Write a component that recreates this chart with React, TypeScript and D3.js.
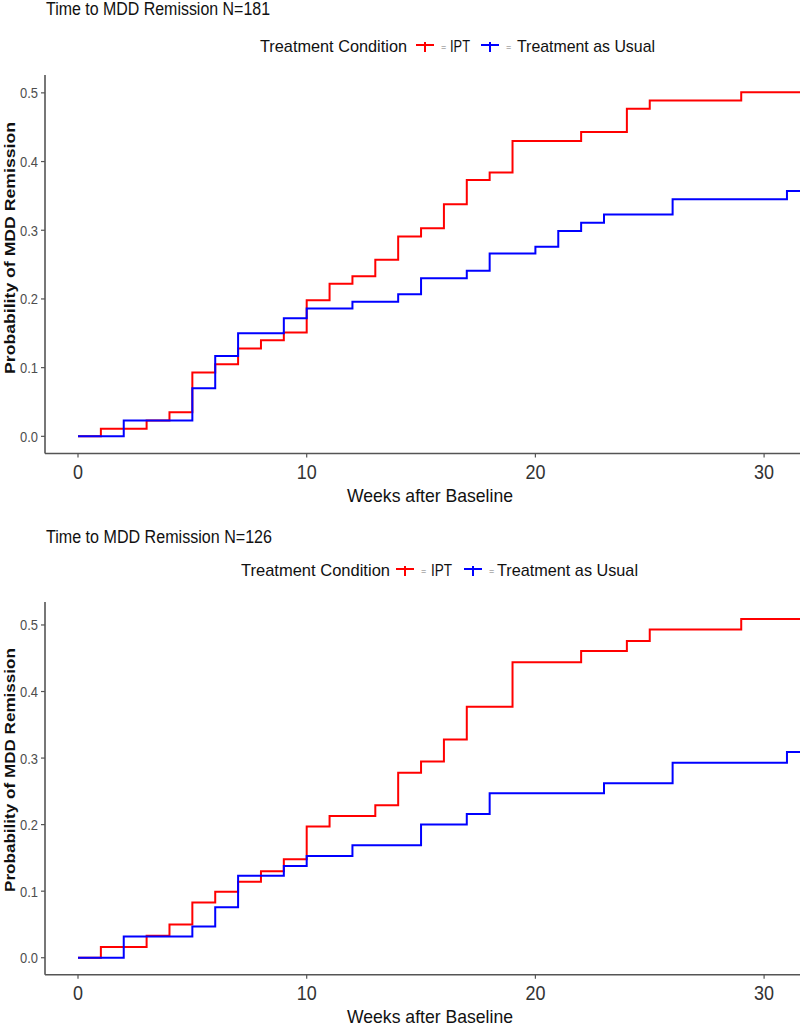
import React from "react";
import * as d3 from "d3";

// ---------- Data ----------
const topIptWeeks = [0, 1, 3, 4, 5, 6, 7, 8, 9, 10, 11, 12, 13, 14, 15, 16, 17, 18, 19, 22, 24, 25, 29];
const topIptProb = [0, 0.011, 0.023, 0.035, 0.093, 0.105, 0.128, 0.14, 0.151, 0.198, 0.222, 0.233, 0.257, 0.291, 0.303, 0.338, 0.373, 0.384, 0.43, 0.443, 0.477, 0.489, 0.501];
const topTauWeeks = [0, 2, 5, 6, 7, 9, 10, 12, 14, 15, 17, 18, 20, 21, 22, 23, 26, 31];
const topTauProb = [0, 0.023, 0.07, 0.117, 0.15, 0.172, 0.186, 0.196, 0.207, 0.23, 0.241, 0.266, 0.276, 0.299, 0.311, 0.323, 0.345, 0.357];

const botIptWeeks = [0, 1, 3, 4, 5, 6, 7, 8, 9, 10, 11, 13, 14, 15, 16, 17, 19, 22, 24, 25, 29];
const botIptProb = [0, 0.016, 0.033, 0.05, 0.083, 0.099, 0.114, 0.13, 0.148, 0.197, 0.213, 0.229, 0.278, 0.295, 0.328, 0.377, 0.444, 0.461, 0.476, 0.493, 0.509];
const botTauWeeks = [0, 2, 5, 6, 7, 9, 10, 12, 15, 17, 18, 23, 26, 31];
const botTauProb = [0, 0.032, 0.047, 0.076, 0.123, 0.138, 0.153, 0.169, 0.2, 0.216, 0.247, 0.262, 0.293, 0.309];

const xTicks = [0, 10, 20, 30];
const yTicks = [0, 0.1, 0.2, 0.3, 0.4, 0.5];
const xDomain: [number, number] = [-1.443, 31.57];
const titles = ["Time to MDD Remission N=181", "Time to MDD Remission N=126"];
const legendTitle = "Treatment Condition";
const groupLabels = ["IPT", "Treatment as Usual"];
const colors = ["#ff0000", "#0000ff"];
const xLabel = "Weeks after Baseline";
const yLabel = "Probability of MDD Remission";

const FONT = "'Liberation Sans', Arial, sans-serif";

type PanelCfg = {
  title: string;
  titleY: number;
  titleLen: number;
  legendY: number;
  legend: { tc: number; tcLen: number; k1: number; eq1: number; ipt: number; iptLen: number; k2: number; eq2: number; tau: number; tauLen: number };
  yDomain: [number, number];
  yRange: [number, number];
  yTitleY: number;
  yTitleLen: number;
  series: { weeks: number[]; prob: number[] }[];
};

function Panel({ cfg }: { cfg: PanelCfg }) {
  const x = d3.scaleLinear().domain(xDomain).range([45, 800]);
  const y = d3.scaleLinear().domain(cfg.yDomain).range(cfg.yRange);
  const bottom = cfg.yRange[0];
  const top = cfg.yRange[1];
  const line = d3
    .line<[number, number]>()
    .x((d) => x(d[0]))
    .y((d) => y(d[1]))
    .curve(d3.curveStepAfter);
  const L = cfg.legend;
  const key = (cx: number, color: string) => (
    <g>
      <line x1={cx - 9} x2={cx + 9} y1={cfg.legendY - 7} y2={cfg.legendY - 7} stroke={color} strokeWidth={2} />
      <line x1={cx} x2={cx} y1={cfg.legendY - 10} y2={cfg.legendY} stroke={color} strokeWidth={2} />
    </g>
  );
  return (
    <g>
      <text x={46} y={cfg.titleY} fontFamily={FONT} fontSize={18} fill="#111" textLength={cfg.titleLen} lengthAdjust="spacingAndGlyphs">
        {cfg.title}
      </text>
      {/* legend */}
      <text x={L.tc} y={cfg.legendY} fontFamily={FONT} fontSize={17} fill="#111" textLength={L.tcLen} lengthAdjust="spacingAndGlyphs">
        {legendTitle}
      </text>
      {key(L.k1, colors[0])}
      <text x={L.eq1} y={cfg.legendY - 2} fontFamily={FONT} fontSize={9} fill="#777">=</text>
      <text x={L.ipt} y={cfg.legendY} fontFamily={FONT} fontSize={17} fill="#111" textLength={L.iptLen} lengthAdjust="spacingAndGlyphs">
        {groupLabels[0]}
      </text>
      {key(L.k2, colors[1])}
      <text x={L.eq2} y={cfg.legendY - 2} fontFamily={FONT} fontSize={9} fill="#777">=</text>
      <text x={L.tau} y={cfg.legendY} fontFamily={FONT} fontSize={17} fill="#111" textLength={L.tauLen} lengthAdjust="spacingAndGlyphs">
        {groupLabels[1]}
      </text>

      {/* series */}
      {cfg.series.map((s, i) => {
        const pts: [number, number][] = s.weeks.map((w, j) => [w, s.prob[j]] as [number, number]);
        pts.push([xDomain[1], s.prob[s.prob.length - 1]]);
        return <path key={i} d={line(pts) || ""} fill="none" stroke={colors[i]} strokeWidth={2} />;
      })}

      {/* axes */}
      <line x1={45} x2={45} y1={top} y2={bottom} stroke="#555" strokeWidth={1.6} />
      <line x1={45} x2={800} y1={bottom} y2={bottom} stroke="#555" strokeWidth={1.6} />
      {yTicks.map((t) => (
        <g key={t}>
          <line x1={41} x2={45} y1={y(t)} y2={y(t)} stroke="#555" strokeWidth={1.2} />
          <text x={38} y={y(t) + 5.5} textAnchor="end" fontFamily={FONT} fontSize={15} fill="#4d4d4d" textLength={18} lengthAdjust="spacingAndGlyphs">
            {t.toFixed(1)}
          </text>
        </g>
      ))}
      {xTicks.map((t) => (
        <g key={t}>
          <line x1={x(t)} x2={x(t)} y1={bottom} y2={bottom + 4} stroke="#555" strokeWidth={1.2} />
          <text
            x={x(t)}
            y={bottom + 25}
            textAnchor="middle"
            fontFamily={FONT}
            fontSize={20}
            fill="#333"
            textLength={t === 0 ? 10 : 20}
            lengthAdjust="spacingAndGlyphs"
          >
            {t}
          </text>
        </g>
      ))}
      <text x={347} y={bottom + 48.5} fontFamily={FONT} fontSize={19} fill="#111" textLength={166} lengthAdjust="spacingAndGlyphs">
        {xLabel}
      </text>
      <text
        transform={`translate(15,${cfg.yTitleY}) rotate(-90)`}
        textAnchor="middle"
        fontFamily={FONT}
        fontSize={15}
        fontWeight="bold"
        fill="#111"
        textLength={cfg.yTitleLen}
        lengthAdjust="spacingAndGlyphs"
      >
        {yLabel}
      </text>
    </g>
  );
}

const panels: PanelCfg[] = [
  {
    title: titles[0],
    titleY: 15,
    titleLen: 224,
    legendY: 52,
    legend: { tc: 260, tcLen: 147, k1: 425, eq1: 441, ipt: 450, iptLen: 20, k2: 490, eq2: 506, tau: 517, tauLen: 138 },
    yDomain: [-0.025, 0.526],
    yRange: [453.5, 75],
    yTitleY: 248,
    yTitleLen: 252,
    series: [
      { weeks: topIptWeeks, prob: topIptProb },
      { weeks: topTauWeeks, prob: topTauProb },
    ],
  },
  {
    title: titles[1],
    titleY: 543,
    titleLen: 226,
    legendY: 576,
    legend: { tc: 241, tcLen: 149, k1: 405, eq1: 421, ipt: 431, iptLen: 21, k2: 473, eq2: 489, tau: 497, tauLen: 141 },
    yDomain: [-0.0255, 0.5345],
    yRange: [974.7, 602],
    yTitleY: 770,
    yTitleLen: 244,
    series: [
      { weeks: botIptWeeks, prob: botIptProb },
      { weeks: botTauWeeks, prob: botTauProb },
    ],
  },
];

export default function App() {
  return (
    <div style={{ position: "absolute", left: 0, top: 0 }}>
      <svg width={800} height={1026} style={{ display: "block", background: "#fff" }}>
        {panels.map((p, i) => (
          <Panel key={i} cfg={p} />
        ))}
      </svg>
    </div>
  );
}
